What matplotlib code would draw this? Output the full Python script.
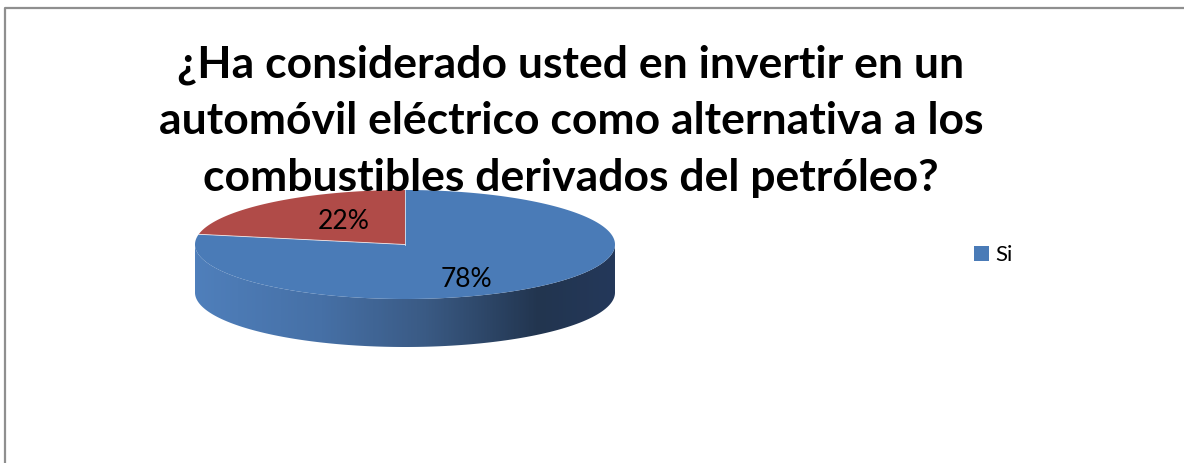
import numpy as np
import matplotlib
matplotlib.use("Agg")
import matplotlib.pyplot as plt
from matplotlib.patches import Polygon, Rectangle
from matplotlib.colors import LinearSegmentedColormap

# Survey answers
categories = ["Si", "No"]
values = [78, 22]
top_colors = ["#4A7BB7", "#B04B48"]
legend_items = ["Si"]
title_lines = [
    "¿Ha considerado usted en invertir en un",
    "automóvil eléctrico como alternativa a los",
    "combustibles derivados del petróleo?",
]

W, H = 1184, 464
fig = plt.figure(figsize=(W / 100, H / 100), dpi=100)
ax = fig.add_axes([0, 0, 1, 1])
ax.set_xlim(0, W)
ax.set_ylim(H, 0)
ax.axis("off")

# chart frame (top and left edges visible)
ax.plot([5, 5, W], [H, 9, 9], color="#8f8f8f", lw=1.6, solid_capstyle="butt", zorder=1)

# title
for i, line in enumerate(title_lines):
    ax.text(571, 65 + i * 56.5, line, ha="center", va="center",
            fontsize=32, fontweight="bold", family="Lato", color="black", zorder=10)

# 3D pie geometry (screen units)
cx, cy, rx, ry, depth = 405, 245.5, 210, 54.5, 48


def ell(t_deg, dy=0.0):
    t = np.radians(t_deg)
    return cx + rx * np.cos(t), cy - ry * np.sin(t) + dy


# side wall: front half of the ellipse, shaded left-to-right
t = np.linspace(180, 360, 200)
xs, ys = ell(t)
xb, yb = ell(t[::-1], depth)
side_xy = np.column_stack([np.concatenate([xs, xb]), np.concatenate([ys, yb])])
side = Polygon(side_xy, closed=True, facecolor="none", edgecolor="none", zorder=2)
ax.add_patch(side)
shade = LinearSegmentedColormap.from_list(
    "side", [(0.0, "#4F7FBB"), (0.3, "#4670A6"), (0.55, "#3A5A84"),
             (0.82, "#22354F"), (1.0, "#24385A")])
grad = np.linspace(0, 1, 400)[None, :]
im = ax.imshow(grad, cmap=shade, aspect="auto",
               extent=[cx - rx, cx + rx, cy + ry + depth + 2, cy - 2], zorder=2)
im.set_clip_path(side)

# top faces: slices start at 12 o'clock and run clockwise
start = 90.0
bounds = []
for val, col in zip(values, top_colors):
    sweep = 360.0 * val / sum(values)
    tt = np.linspace(start, start - sweep, 300)
    px, py = ell(tt)
    poly = np.vstack([[cx, cy], np.column_stack([px, py])])
    ax.add_patch(Polygon(poly, closed=True, facecolor=col, edgecolor="none", zorder=3))
    mid = start - sweep / 2
    bounds.append(start)
    lx, ly = ell(mid)
    # label inside the slice, toward its middle
    fx = cx + (lx - cx) * 0.46
    fy = cy + (ly - cy) * 0.70 + 5
    ax.text(fx, fy, f"{val}%", ha="center", va="center", fontsize=19,
            family="Lato", color="black", zorder=6)
    start -= sweep

for b in bounds:
    bx, by = ell(b)
    ax.plot([cx, bx], [cy, by], color="white", lw=0.6, alpha=0.8, zorder=4)

# legend
ax.add_patch(Rectangle((974, 247), 15, 15, facecolor=top_colors[0], edgecolor="none", zorder=5))
ax.text(995, 255, legend_items[0], ha="left", va="center", fontsize=16,
        family="Lato", color="black", zorder=5)

fig.savefig("out.png", dpi=100, facecolor="white")
